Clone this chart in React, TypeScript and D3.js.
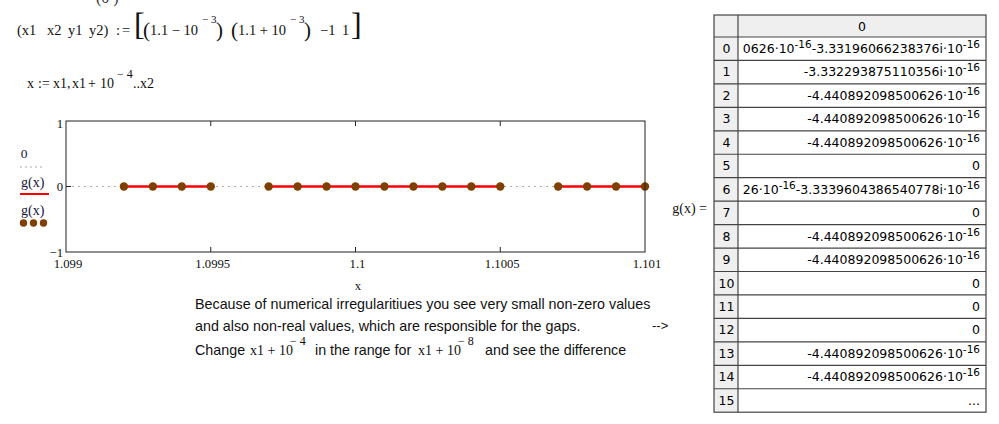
import React from "react";
import * as d3 from "d3";

// ---- data ----
const xValues = [
  1.099, 1.0991, 1.0992, 1.0993, 1.0994, 1.0995, 1.0996, 1.0997, 1.0998, 1.0999, 1.1,
  1.1001, 1.1002, 1.1003, 1.1004, 1.1005, 1.1006, 1.1007, 1.1008, 1.1009, 1.101,
];
// null = non-real value (not plotted -> gap)
const gValues: (number | null)[] = [
  null, null, -4.44e-16, -4.44e-16, -4.44e-16, 0, null, 0, -4.44e-16, -4.44e-16, 0,
  0, 0, -4.44e-16, -4.44e-16, -4.44e-16, null, 0, -4.44e-16, -4.44e-16, 0,
];
const xDomain = [1.099, 1.101];
const yDomain = [-1, 1];
const xTicks = [1.099, 1.0995, 1.1, 1.1005, 1.101];
const xTickLabels = ["1.099", "1.0995", "1.1", "1.1005", "1.101"];
const yTicks = [1, 0, -1];
const yTickLabels = ["1", "0", "\u22121"];
const tableIndex = ["0", "1", "2", "3", "4", "5", "6", "7", "8", "9", "10", "11", "12", "13", "14", "15"];
// visible part of each cell (long complex values are cut off at the left, as shown)
const tableValues = [
  "0626·10^-16-3.33196066238376i·10^-16",
  "-3.332293875110356i·10^-16",
  "-4.440892098500626·10^-16",
  "-4.440892098500626·10^-16",
  "-4.440892098500626·10^-16",
  "0",
  "26·10^-16-3.3339604386540778i·10^-16",
  "0",
  "-4.440892098500626·10^-16",
  "-4.440892098500626·10^-16",
  "0",
  "0",
  "0",
  "-4.440892098500626·10^-16",
  "-4.440892098500626·10^-16",
  "...",
];

const SERIF = "'Liberation Serif', 'Times New Roman', serif";
const SANS = "'Liberation Sans', Arial, sans-serif";
const TAB = "'DejaVu Sans', Verdana, sans-serif";
const BROWN = "#7f3f00";
const INK = "#111";

// plot geometry
const P = { left: 66, right: 645, top: 121, bottom: 252 };
// table geometry
const T = { left: 714, idxRight: 738, right: 986, top: 15, headH: 22, rowH: 23.45 };

function TableValue({ s, x, y }: { s: string; x: number; y: number }) {
  const parts = s.split(/(\^-16)/);
  const spans: React.ReactNode[] = [];
  let up = false;
  parts.forEach((p, i) => {
    if (p === "^-16") {
      spans.push(
        <tspan key={i} dy={-5} fontSize={10.5}>
          -16
        </tspan>
      );
      up = true;
    } else if (p.length) {
      spans.push(
        <tspan key={i} dy={up ? 5 : 0}>
          {p}
        </tspan>
      );
      up = false;
    }
  });
  return (
    <text x={x} y={y} textAnchor="end" fontFamily={TAB} fontSize={12.5} fill="#000">
      {spans}
    </text>
  );
}

function T_({ x, y, s, size = 14.5, fam = SERIF }: { x: number; y: number; s: string; size?: number; fam?: string }) {
  return (
    <text x={x} y={y} fontFamily={fam} fontSize={size} fill={INK}>
      {s}
    </text>
  );
}

export default function App() {
  const xs = d3.scaleLinear().domain(xDomain).range([P.left, P.right]);
  const ys = d3.scaleLinear().domain(yDomain).range([P.bottom, P.top]);
  const pts = xValues.map((x, i) => ({ x, g: gValues[i] }));
  const line = d3
    .line<{ x: number; g: number | null }>()
    .defined((d) => d.g !== null)
    .x((d) => xs(d.x))
    .y((d) => ys(d.g as number));
  const zeroLine = d3
    .line<number>()
    .x((d) => xs(d))
    .y(() => ys(0));

  const rowY = (i: number) => T.top + T.headH + i * T.rowH;
  const yLabelDy = [7, 4.5, 5];

  return (
    <div style={{ position: "absolute", left: 0, top: 0 }}>
      <svg width={999} height={424} style={{ display: "block", background: "#fff" }}>
        {/* cut-off fragment at very top */}
        <text x={96} y={3} fontFamily={SERIF} fontSize={16} fill="#333">
          (0 )
        </text>

        {/* (x1 x2 y1 y2) := [ (1.1 - 10^-3) (1.1 + 10^-3) -1 1 ] */}
        <T_ x={17} y={35} s="(x1" />
        <T_ x={47} y={35} s="x2" />
        <T_ x={68} y={35} s="y1" />
        <T_ x={89} y={35} s="y2)" />
        <T_ x={116} y={35} s=":" />
        <T_ x={122} y={35} s="=" />
        <T_ x={134} y={35} s="[" size={32} />
        <T_ x={143} y={37} s="(" size={21} />
        <T_ x={150} y={35} s="1.1 − 10" />
        <T_ x={202} y={23} s="− 3" size={11} />
        <T_ x={216} y={37} s=")" size={21} />
        <T_ x={231} y={37} s="(" size={21} />
        <T_ x={238} y={35} s="1.1 + 10" />
        <T_ x={290} y={23} s="− 3" size={11} />
        <T_ x={304} y={37} s=")" size={21} />
        <T_ x={320} y={35} s="−1" />
        <T_ x={342} y={35} s="1" />
        <T_ x={351} y={35} s="]" size={32} />

        {/* x := x1, x1 + 10^-4 .. x2 */}
        <T_ x={27} y={88} s="x" size={14} />
        <T_ x={38} y={88} s=":" size={14} />
        <T_ x={42} y={88} s="=" size={14} />
        <T_ x={53} y={88} s="x1" size={14} />
        <T_ x={67} y={88} s="," size={14} />
        <T_ x={72} y={88} s="x1" size={14} />
        <T_ x={88} y={88} s="+" size={14} />
        <T_ x={100} y={88} s="10" size={14} />
        <T_ x={117} y={78} s="− 4" size={12} />
        <T_ x={133} y={88} s=".." size={14} />
        <T_ x={140} y={88} s="x2" size={14} />

        {/* legend */}
        <text x={24} y={158} fontFamily={SERIF} fontSize={13.5} fill="#14143a" textAnchor="middle">
          0
        </text>
        <line x1={20} x2={44} y1={167} y2={167} stroke="#aaa" strokeDasharray="2,3" />
        <text x={21} y={187} fontFamily={SERIF} fontSize={14} fill="#14143a">
          g(x)
        </text>
        <line x1={20} x2={49} y1={194} y2={194} stroke="#ff0000" strokeWidth={2} />
        <text x={21} y={215} fontFamily={SERIF} fontSize={14} fill="#14143a">
          g(x)
        </text>
        {[23.5, 33.5, 43.5].map((cx) => (
          <circle key={cx} cx={cx} cy={223} r={3.7} fill={BROWN} />
        ))}

        {/* plot */}
        <path d={zeroLine(xDomain) || ""} stroke="#aaa" strokeDasharray="2,4" fill="none" />
        <path d={line(pts) || ""} stroke="#ff0000" strokeWidth={2.5} fill="none" />
        {pts
          .filter((d) => d.g !== null)
          .map((d, i) => (
            <circle key={i} cx={xs(d.x)} cy={ys(d.g as number)} r={4.2} fill={BROWN} />
          ))}
        <rect
          x={P.left}
          y={P.top}
          width={P.right - P.left}
          height={P.bottom - P.top}
          fill="none"
          stroke="#222"
          strokeWidth={1}
        />
        {xTicks.slice(1, -1).map((t) => (
          <g key={t}>
            <line x1={xs(t)} x2={xs(t)} y1={P.top} y2={P.top + 5} stroke="#222" />
            <line x1={xs(t)} x2={xs(t)} y1={P.bottom - 5} y2={P.bottom} stroke="#222" />
          </g>
        ))}
        <line x1={P.left} x2={P.left + 5} y1={ys(0)} y2={ys(0)} stroke="#222" />
        {xTicks.map((t, i) => (
          <text
            key={t}
            x={xs(t) + 2}
            y={P.bottom + 16}
            textAnchor="middle"
            fontFamily={SERIF}
            fontSize={12.7}
            fill={INK}
          >
            {xTickLabels[i]}
          </text>
        ))}
        {yTicks.map((t, i) => (
          <text
            key={t}
            x={P.left - 3}
            y={ys(t) + yLabelDy[i]}
            textAnchor="end"
            fontFamily={SERIF}
            fontSize={12.7}
            fill={INK}
          >
            {yTickLabels[i]}
          </text>
        ))}
        <text x={358} y={290} textAnchor="middle" fontFamily={SERIF} fontSize={12.7} fill={INK}>
          x
        </text>

        {/* paragraph */}
        <T_ x={195} y={309} s="Because of numerical irregularitiues you see very small non-zero values" size={14.3} fam={SANS} />
        <T_ x={195} y={331} s="and also non-real values, which are responsible for the gaps." size={14.3} fam={SANS} />
        <T_ x={652} y={330} s="-->" size={13} fam={SANS} />
        <T_ x={195} y={355} s="Change" size={14.3} fam={SANS} />
        <T_ x={250} y={355} s="x1 + 10" size={14} />
        <T_ x={290} y={345} s="− 4" size={12} />
        <T_ x={315} y={355} s="in the range for" size={14.3} fam={SANS} />
        <T_ x={418} y={355} s="x1 + 10" size={14} />
        <T_ x={458} y={345} s="− 8" size={12} />
        <T_ x={485} y={355} s="and see the difference" size={14.3} fam={SANS} />

        {/* g(x) = */}
        <text x={707} y={213} textAnchor="end" fontFamily={SERIF} fontSize={14} fill={INK}>
          g(x) =
        </text>

        {/* table */}
        <defs>
          <clipPath id="valclip">
            <rect x={T.idxRight + 1} y={T.top} width={T.right - T.idxRight - 1} height={420} />
          </clipPath>
        </defs>
        <rect x={T.left} y={T.top} width={T.right - T.left} height={T.headH} fill="#efefef" />
        <rect
          x={T.left}
          y={T.top + T.headH}
          width={T.idxRight - T.left}
          height={tableIndex.length * T.rowH}
          fill="#efefef"
        />
        <text
          x={(T.idxRight + T.right) / 2}
          y={T.top + 16}
          textAnchor="middle"
          fontFamily={TAB}
          fontSize={12.5}
          fill="#000"
        >
          0
        </text>
        {tableIndex.map((idx, i) => (
          <text
            key={idx}
            x={(T.left + T.idxRight) / 2 + 0.5}
            y={rowY(i) + 16}
            textAnchor="middle"
            fontFamily={TAB}
            fontSize={12.5}
            fill="#000"
          >
            {idx}
          </text>
        ))}
        <g clipPath="url(#valclip)">
          {tableValues.map((v, i) => (
            <TableValue key={i} s={v} x={T.right - 6} y={rowY(i) + 16} />
          ))}
        </g>
        {tableIndex.map((_, i) => (
          <line
            key={i}
            x1={T.left}
            x2={T.right}
            y1={rowY(i)}
            y2={rowY(i)}
            stroke="#444"
            strokeWidth={1.2}
          />
        ))}
        <line x1={T.idxRight} x2={T.idxRight} y1={T.top} y2={rowY(tableIndex.length)} stroke="#444" strokeWidth={1.2} />
        <rect
          x={T.left}
          y={T.top}
          width={T.right - T.left}
          height={rowY(tableIndex.length) - T.top}
          fill="none"
          stroke="#444"
          strokeWidth={1.2}
        />
      </svg>
    </div>
  );
}
